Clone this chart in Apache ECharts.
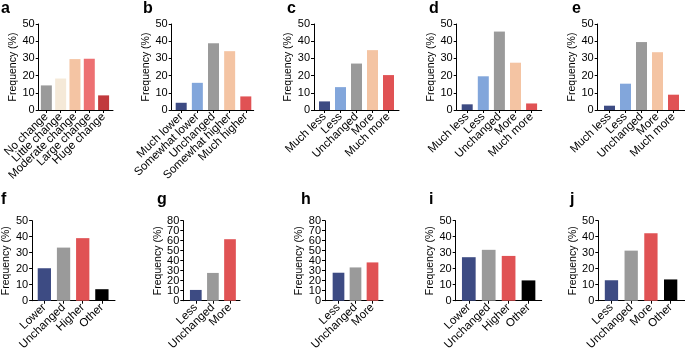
<!DOCTYPE html>
<html>
<head>
<meta charset="utf-8">
<script src="https://cdn.jsdelivr.net/npm/echarts@6/dist/echarts.min.js"></script>
<style>
html, body { margin: 0; padding: 0; background: #fff; }
#chart { width: 685px; height: 353px; }
</style>
</head>
<body>
<div id="chart"></div>
<script>
// 数据：每个小图的类别和频率（%）
var catA = ['No change', 'Little change', 'Moderate change', 'Large change', 'Huge change']
var valA = [14.3, 18.3, 29.6, 29.8, 8.5]
var catB = ['Much lower', 'Somewhat lower', 'Unchanged', 'Somewhat higher', 'Much higher']
var valB = [4.2, 15.8, 38.8, 34.2, 7.9]
var catC = ['Much less', 'Less', 'Unchanged', 'More', 'Much more']
var valC = [5.0, 13.3, 27.0, 34.8, 20.3]
var catD = ['Much less', 'Less', 'Unchanged', 'More', 'Much more']
var valD = [3.3, 19.6, 45.6, 27.5, 3.8]
var catE = ['Much less', 'Less', 'Unchanged', 'More', 'Much more']
var valE = [2.5, 15.3, 39.5, 33.6, 8.9]
var catF = ['Lower', 'Unchanged', 'Higher', 'Other']
var valF = [20.3, 33.2, 39.1, 7.2]
var catG = ['Less', 'Unchanged', 'More']
var valG = [10.8, 27.8, 61.5]
var catH = ['Less', 'Unchanged', 'More']
var valH = [28.0, 33.3, 38.3]
var catI = ['Lower', 'Unchanged', 'Higher', 'Other']
var valI = [27.2, 31.8, 28.0, 12.7]
var catJ = ['Less', 'Unchanged', 'More', 'Other']
var valJ = [12.8, 31.3, 42.2, 13.3]
var yMaxTop = [50, 50, 50, 50, 50]
var yMaxBottom = [50, 80, 80, 50, 50]

var NAVY = '#3d4b83', LBLUE = '#82a6db', GRAY = '#9a9a9a', PEACH = '#f4c4a3'
var RED = '#e05254', BLACK = '#000000'
var FONT = '"Liberation Sans", Arial, sans-serif'

// 版式：left=y轴位置, width=x轴长度, pad=第一根柱中心离y轴距离, band=柱间距
var panels = [
  { letter: 'a', cats: catA, vals: valA, yMax: yMaxTop[0], row: 0, left: 30, width: 83, pad: 8.5, band: 16, barW: 11, lx: 1, gap: 20,
    colors: [GRAY, '#f5e9d8', PEACH, '#ed7072', '#c1393c'] },
  { letter: 'b', cats: catB, vals: valB, yMax: yMaxTop[1], row: 0, left: 171.7, width: 82, pad: 9.5, band: 16.15, barW: 11, lx: 143, gap: 20,
    colors: [NAVY, LBLUE, GRAY, PEACH, RED] },
  { letter: 'c', cats: catC, vals: valC, yMax: yMaxTop[2], row: 0, left: 314, width: 85, pad: 10.5, band: 16, barW: 11, lx: 287, gap: 20,
    colors: [NAVY, LBLUE, GRAY, PEACH, RED] },
  { letter: 'd', cats: catD, vals: valD, yMax: yMaxTop[3], row: 0, left: 456.7, width: 85, pad: 10.5, band: 16.1, barW: 11, lx: 429, gap: 20,
    colors: [NAVY, LBLUE, GRAY, PEACH, RED] },
  { letter: 'e', cats: catE, vals: valE, yMax: yMaxTop[4], row: 0, left: 597.7, width: 87, pad: 11.8, band: 16, barW: 11, lx: 572, gap: 20,
    colors: [NAVY, LBLUE, GRAY, PEACH, RED] },
  { letter: 'f', cats: catF, vals: valF, yMax: yMaxBottom[0], row: 1, left: 29, width: 86, pad: 12.7, band: 19.9, barW: 13.3, lx: 1, gap: 20,
    colors: [NAVY, GRAY, RED, BLACK] },
  { letter: 'g', cats: catG, vals: valG, yMax: yMaxBottom[1], row: 1, left: 183.3, width: 56.7, pad: 12.5, band: 17.1, barW: 11.7, lx: 157, gap: 17,
    colors: [NAVY, GRAY, RED] },
  { letter: 'h', cats: catH, vals: valH, yMax: yMaxBottom[2], row: 1, left: 325, width: 58, pad: 13.5, band: 17, barW: 11.7, lx: 301, gap: 17,
    colors: [NAVY, GRAY, RED] },
  { letter: 'i', cats: catI, vals: valI, yMax: yMaxBottom[3], row: 1, left: 455.7, width: 86, pad: 13.1, band: 19.9, barW: 13.7, lx: 429, gap: 19,
    colors: [NAVY, GRAY, RED, BLACK] },
  { letter: 'j', cats: catJ, vals: valJ, yMax: yMaxBottom[4], row: 1, left: 598.3, width: 87, pad: 13.2, band: 19.8, barW: 13.3, lx: 570, gap: 18,
    colors: [NAVY, GRAY, RED, BLACK] }
]
var rows = [
  { top: 24, height: 86, letterY: 1 },
  { top: 220.7, height: 85.3, letterY: 192 }
]

// 标签太密时会被自动隐藏，所以奇偶标签分到两根重叠的轴上
function xAxisPair(p, k) {
  var idx = p.cats.map(function(c, i) { return i })
  var fmt = function(v) { return p.cats[Math.round(v)] }
  var make = function(vals, showLine) {
    return {
      gridIndex: k,
      type: 'value',
      position: 'bottom',
      min: -p.pad / p.band,
      max: (p.width - p.pad) / p.band,
      splitLine: { show: false },
      axisLine: { show: showLine, onZero: false, lineStyle: { color: '#000', width: 1 } },
      axisTick: { show: showLine, length: 3, customValues: idx, lineStyle: { color: '#000' } },
      axisLabel: {
        customValues: vals,
        rotate: 44,
        margin: 5,
        fontSize: 11.5,
        fontFamily: FONT,
        color: '#000',
        showMinLabel: true,
        showMaxLabel: true,
        formatter: fmt
      }
    }
  }
  return [
    make(idx.filter(function(i) { return i % 2 === 0 }), true),
    make(idx.filter(function(i) { return i % 2 === 1 }), false)
  ]
}

function yAxisPair(p, k) {
  var ticks = []
  for (var t = 0; t <= p.yMax; t += 10) ticks.push(t)
  var make = function(vals, main) {
    var ax = {
      gridIndex: k,
      type: 'value',
      position: 'left',
      min: 0,
      max: p.yMax,
      interval: 10,
      splitLine: { show: false },
      axisLine: { show: main, onZero: false, lineStyle: { color: '#000', width: 1 } },
      axisTick: { show: main, length: 3, lineStyle: { color: '#000' } },
      axisLabel: {
        customValues: vals,
        fontSize: 11,
        fontFamily: FONT,
        color: '#000',
        margin: 4,
        showMinLabel: true,
        showMaxLabel: true
      }
    }
    if (main) {
      ax.name = 'Frequency (%)'
      ax.nameLocation = 'middle'
      ax.nameGap = p.gap
      ax.nameTextStyle = { fontSize: 10.5, fontFamily: FONT, color: '#000' }
    }
    return ax
  }
  return [
    make(ticks.filter(function(v) { return v % 20 === 0 }), true),
    make(ticks.filter(function(v) { return v % 20 !== 0 }), false)
  ]
}

var grids = [], xAxes = [], yAxes = [], series = [], graphics = []
panels.forEach(function(p, k) {
  var r = rows[p.row]
  grids.push({ left: p.left, top: r.top, width: p.width, height: r.height })
  xAxes = xAxes.concat(xAxisPair(p, k))
  yAxes = yAxes.concat(yAxisPair(p, k))
  series.push({
    type: 'bar',
    xAxisIndex: k * 2,
    yAxisIndex: k * 2,
    barWidth: p.barW,
    silent: true,
    data: p.vals.map(function(v, i) {
      return { value: [i, v], itemStyle: { color: p.colors[i] } }
    })
  })
  graphics.push({
    type: 'text',
    x: p.lx,
    y: r.letterY,
    style: { text: p.letter, font: 'bold 16px ' + FONT, fill: '#000' }
  })
})

var chart = echarts.init(document.getElementById('chart'), null, { renderer: 'canvas' })
chart.setOption({
  animation: false,
  backgroundColor: '#fff',
  grid: grids,
  xAxis: xAxes,
  yAxis: yAxes,
  series: series,
  graphic: graphics
})
</script>
</body>
</html>
